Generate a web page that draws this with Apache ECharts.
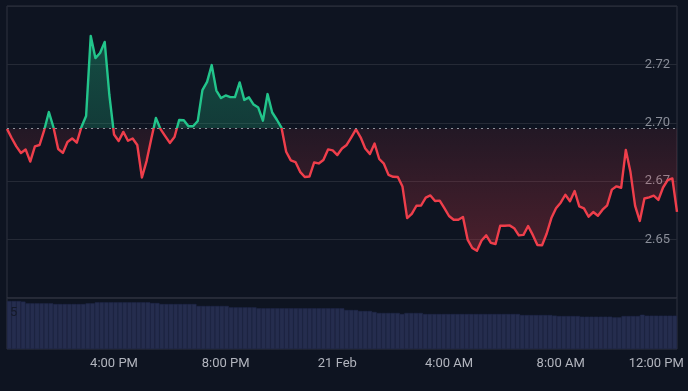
<!DOCTYPE html>
<html><head><meta charset="utf-8">
<script src="https://cdn.jsdelivr.net/npm/echarts@6/dist/echarts.min.js"></script>
<style>html,body{margin:0;padding:0;background:#0e1421}#c{width:688px;height:391px}</style>
</head><body><div id="c"></div>
<script>
// 10-minute closes, Feb 20 12:10 -> Feb 21 12:10
const prices = [
2.6974,2.6935,2.6899,2.6871,2.6886,2.6834,2.6899,2.6905,2.6969,2.7046,
2.6980,2.6888,2.6871,2.6918,2.6933,2.6915,2.6982,2.7029,2.7372,2.7277,
2.7299,2.7346,2.7119,2.6950,2.6922,2.6961,2.6923,2.6933,2.6905,2.6766,
2.6836,2.6931,2.7021,2.6973,2.6943,2.6914,2.6939,2.7012,2.7011,2.6985,
2.6985,2.7008,2.7140,2.7175,2.7247,2.7138,2.7106,2.7117,2.7110,2.7110,
2.7173,2.7098,2.7109,2.7078,2.7065,2.7009,2.7123,2.7044,2.7013,2.6979,
2.6876,2.6839,2.6832,2.6790,2.6768,2.6770,2.6830,2.6826,2.6841,2.6886,
2.6882,2.6862,2.6890,2.6905,2.6938,2.6972,2.6938,2.6890,2.6866,2.6911,
2.6845,2.6825,2.6777,2.6769,2.6768,2.6727,2.6592,2.6610,2.6645,2.6646,
2.6680,2.6689,2.6665,2.6667,2.6635,2.6601,2.6585,2.6585,2.6597,2.6500,
2.6464,2.6452,2.6496,2.6518,2.6486,2.6481,2.6559,2.6559,2.6561,2.6549,
2.6518,2.6520,2.6558,2.6520,2.6477,2.6476,2.6526,2.6592,2.6634,2.6658,
2.6692,2.6664,2.6708,2.6642,2.6634,2.6598,2.6618,2.6602,2.6628,2.6647,
2.6714,2.6728,2.6722,2.6884,2.6789,2.6644,2.6580,2.6676,2.6681,2.6688,
2.6670,2.6723,2.6755,2.6762,2.6619
];
const volumes = [
6.68,6.68,6.68,6.60,6.36,6.36,6.36,6.36,6.36,6.36,
6.26,6.26,6.26,6.26,6.26,6.26,6.26,6.36,6.36,6.50,
6.50,6.50,6.50,6.50,6.50,6.50,6.50,6.50,6.50,6.50,
6.50,6.40,6.40,6.26,6.26,6.26,6.26,6.26,6.26,6.26,
6.26,5.99,5.99,5.99,5.99,5.99,5.99,5.99,5.80,5.80,
5.80,5.80,5.80,5.80,5.67,5.67,5.67,5.67,5.67,5.67,
5.67,5.67,5.67,5.67,5.67,5.67,5.67,5.67,5.67,5.67,
5.67,5.67,5.67,5.43,5.43,5.43,5.29,5.29,5.29,5.15,
5.01,5.01,5.01,5.01,5.01,4.87,5.01,5.01,5.01,5.01,
4.87,4.87,4.87,4.87,4.87,4.87,4.87,4.87,4.87,4.87,
4.87,4.87,4.87,4.87,4.87,4.87,4.87,4.87,4.87,4.87,
4.87,4.73,4.73,4.73,4.73,4.73,4.73,4.73,4.65,4.59,
4.59,4.59,4.59,4.59,4.50,4.50,4.50,4.50,4.50,4.50,
4.50,4.41,4.41,4.59,4.59,4.59,4.59,4.77,4.64,4.64,
4.64,4.64,4.64,4.64,4.64
];
const baseline = 2.6976;
const priceTicks = [2.65, 2.675, 2.70, 2.725];
const priceTickLabels = ['2.65', '2.67', '2.70', '2.72'];
const volumeTicks = [5];
const volumeTickLabels = ['5'];
const xTickCats = ['Feb 20 16:00', 'Feb 20 20:00', 'Feb 21 00:00', 'Feb 21 04:00', 'Feb 21 08:00', 'Feb 21 12:00'];
const xTickLabels = ['4:00 PM', '8:00 PM', '21 Feb', '4:00 AM', '8:00 AM', '12:00 PM'];

const categories = [];
for (let m = 12 * 60 + 10; m <= 36 * 60 + 10; m += 10) {
  const d = m >= 1440 ? 21 : 20, mm = m % 1440;
  categories.push('Feb ' + d + ' ' + String(Math.floor(mm / 60)).padStart(2, '0') + ':' + String(mm % 60).padStart(2, '0'));
}

const GREEN = '#22c58b', RED = '#ef3e4b';
const pmax = Math.max(...prices), pmin = Math.min(...prices);
const off = (pmax - baseline) / (pmax - pmin);
const font = 'Roboto, "Noto Sans", sans-serif';

function tickLabel(ticks, labels) {
  return v => { for (let i = 0; i < ticks.length; i++) if (Math.abs(v - ticks[i]) < 1e-6) return labels[i]; return ''; };
}

const chart = echarts.init(document.getElementById('c'), null, {renderer: 'canvas'});
chart.setOption({
  backgroundColor: '#0e1421',
  animation: false,
  grid: [
    {left: 7, right: 11, top: 6, height: 292, show: true, borderColor: '#2f3341', borderWidth: 1, backgroundColor: 'transparent'},
    {left: 7, right: 11, top: 298, height: 51, show: true, borderColor: '#2f3341', borderWidth: 1, backgroundColor: 'transparent'}
  ],
  xAxis: [
    {type: 'category', gridIndex: 0, data: categories, boundaryGap: false, offset: 51,
     axisLine: {show: false}, axisTick: {show: false}, splitLine: {show: false},
     axisLabel: {
       interval: (i, v) => xTickCats.indexOf(v) >= 0,
       formatter: v => { const k = xTickCats.indexOf(v); if (k < 0) return ''; return k === xTickCats.length - 1 ? '{s|' + xTickLabels[k] + '}' : xTickLabels[k]; },
       color: '#b2b5be', fontSize: 13, fontFamily: font, margin: 8,
       rich: {s: {color: '#b2b5be', fontSize: 13, fontFamily: font, padding: [0, 32, 0, 0]}}
     }},
    {type: 'category', gridIndex: 1, data: categories, boundaryGap: true, show: false}
  ],
  yAxis: [
    {type: 'value', gridIndex: 0, position: 'right', min: 2.625, max: 2.75, interval: 0.025,
     axisLine: {show: false}, axisTick: {show: false},
     axisLabel: {inside: true, margin: 7, color: '#8a8e99', fontSize: 13, fontFamily: font, formatter: tickLabel(priceTicks, priceTickLabels)},
     splitLine: {lineStyle: {color: '#252a36', width: 1}}},
    {type: 'value', gridIndex: 1, position: 'left', min: 0, max: 7.1, interval: 5, z: 10,
     axisLine: {show: false}, axisTick: {show: false}, splitLine: {show: false},
     axisLabel: {inside: true, margin: 3, color: '#151a29', fontSize: 13, fontFamily: font, formatter: tickLabel(volumeTicks, volumeTickLabels)}}
  ],
  series: [
    {type: 'line', xAxisIndex: 0, yAxisIndex: 0, data: prices, symbol: 'none', showSymbol: false, z: 3,
     lineStyle: {width: 2.4, join: 'round', color: {type: 'linear', x: 0, y: 0, x2: 0, y2: 1, colorStops: [
       {offset: 0, color: GREEN}, {offset: off, color: GREEN}, {offset: off, color: RED}, {offset: 1, color: RED}]}},
     areaStyle: {origin: baseline, opacity: 1, color: {type: 'linear', x: 0, y: 0, x2: 0, y2: 1, colorStops: [
       {offset: 0, color: 'rgba(34,197,139,0.32)'},
       {offset: off, color: 'rgba(34,197,139,0.22)'},
       {offset: off, color: 'rgba(239,62,75,0.09)'},
       {offset: 1, color: 'rgba(239,62,75,0.27)'}]}},
     markLine: {silent: true, symbol: 'none', precision: 6, label: {show: false}, animation: false,
       lineStyle: {type: [2, 4], color: '#8f939c', width: 1}, data: [{yAxis: baseline}]}},
    {type: 'bar', xAxisIndex: 1, yAxisIndex: 1, data: volumes, barCategoryGap: '0%',
     itemStyle: {color: '#252d4e', borderColor: '#20284a', borderWidth: 0.5}}
  ]
});
</script></body></html>
